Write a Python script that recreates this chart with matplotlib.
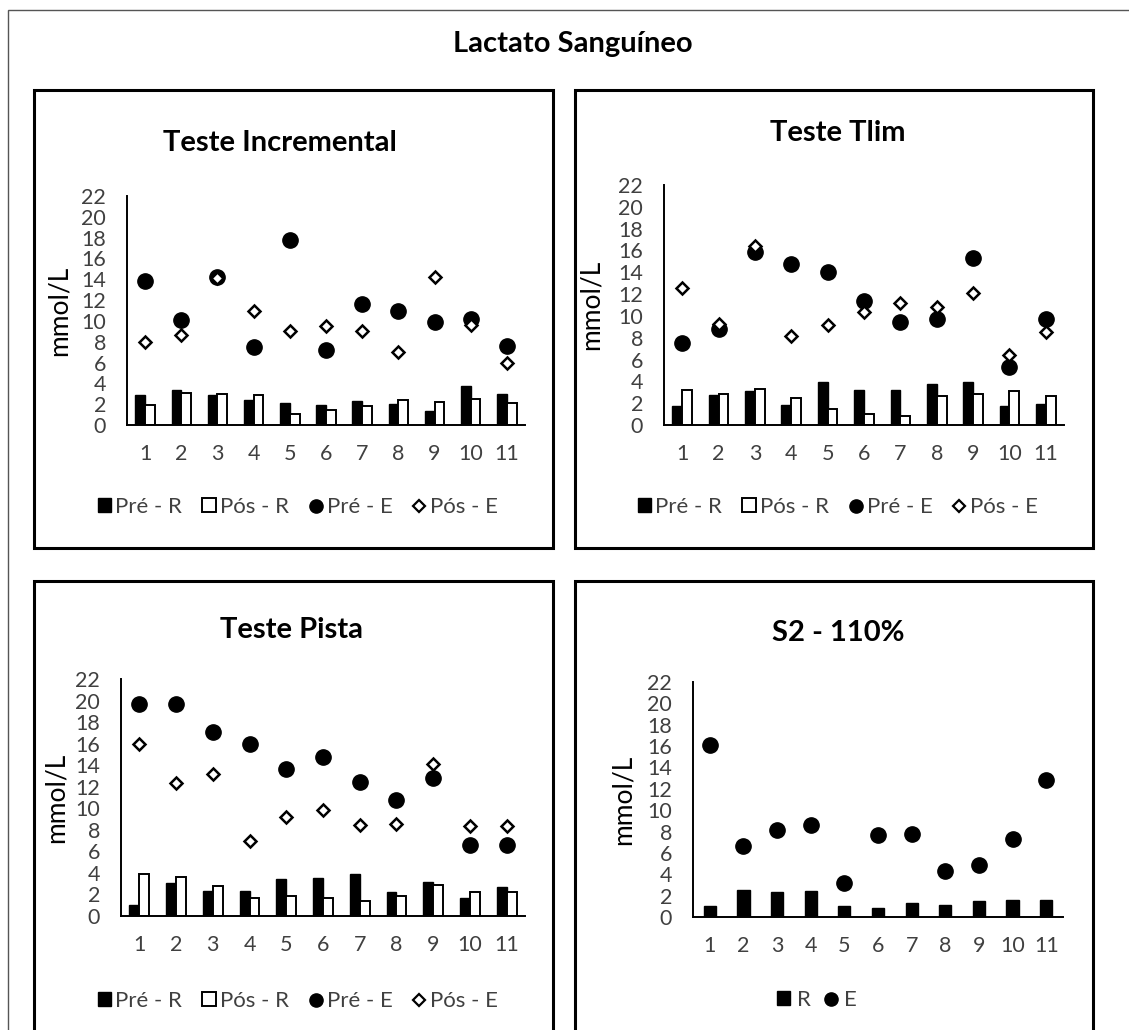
import matplotlib
matplotlib.use('Agg')
import matplotlib.pyplot as plt
from matplotlib.patches import Rectangle, Patch
from matplotlib.lines import Line2D
import numpy as np

plt.rcParams['font.family'] = ['Lato', 'DejaVu Sans']

# ---- data (mmol/L), subjects 1..11 ----
subjects = list(range(1, 12))

inc_pre_r = [2.9, 3.4, 2.9, 2.4, 2.1, 1.9, 2.3, 2.0, 1.3, 3.75, 3.0]
inc_pos_r = [1.9, 3.1, 3.0, 2.85, 1.1, 1.4, 1.85, 2.4, 2.25, 2.5, 2.1]
inc_pre_e = [13.8, 10.1, 14.2, 7.5, 17.8, 7.2, 11.6, 11.0, 9.9, 10.2, 7.6]
inc_pos_e = [8.0, 8.6, 14.1, 11.0, 9.0, 9.5, 9.0, 7.0, 14.2, 9.6, 6.0]

tlim_pre_r = [1.7, 2.75, 3.15, 1.85, 3.95, 3.2, 3.2, 3.8, 3.95, 1.7, 1.9]
tlim_pos_r = [3.2, 2.85, 3.3, 2.5, 1.45, 1.05, 0.8, 2.7, 2.85, 3.1, 2.7]
tlim_pre_e = [7.55, 8.8, 15.9, 14.8, 14.0, 11.4, 9.4, 9.7, 15.3, 5.3, 9.7]
tlim_pos_e = [12.6, 9.3, 16.4, 8.2, 9.2, 10.4, 11.2, 10.85, 12.1, 6.4, 8.5]

pista_pre_r = [1.0, 3.1, 2.3, 2.3, 3.4, 3.55, 3.9, 2.25, 3.2, 1.65, 2.7]
pista_pos_r = [3.9, 3.65, 2.8, 1.65, 1.85, 1.65, 1.4, 1.85, 2.85, 2.25, 2.25]
pista_pre_e = [19.7, 19.7, 17.1, 15.95, 13.6, 14.8, 12.4, 10.75, 12.8, 6.55, 6.55]
pista_pos_e = [16.0, 12.3, 13.2, 7.0, 9.2, 9.8, 8.45, 8.55, 14.1, 8.35, 8.35]

s2_r = [1.0, 2.55, 2.35, 2.45, 1.0, 0.87, 1.35, 1.1, 1.5, 1.6, 1.6]
s2_e = [16.1, 6.65, 8.1, 8.6, 3.2, 7.65, 7.8, 4.3, 4.85, 7.3, 12.8]

yticks = list(range(0, 23, 2))

W, H = 1129, 1030
fig = plt.figure(figsize=(W / 100, H / 100), dpi=100)
TXT = '#404040'


def box(x0, y0, x1, y1, lw, color):
    fig.patches.append(Rectangle((x0 / W, 1 - y1 / H), (x1 - x0) / W, (y1 - y0) / H,
                                 transform=fig.transFigure, fill=False,
                                 lw=lw, edgecolor=color))


def make_axes(x0, x1, ytop, ybot):
    ax = fig.add_axes([x0 / W, 1 - ybot / H, (x1 - x0) / W, (ybot - ytop) / H])
    ax.set_xlim(0.5, 11.5)
    ax.set_ylim(0, 22)
    ax.set_yticks(yticks)
    ax.set_xticks(subjects)
    for s in ['top', 'right']:
        ax.spines[s].set_visible(False)
    for s in ['left', 'bottom']:
        ax.spines[s].set_linewidth(1.4)
        ax.spines[s].set_color('black')
    ax.tick_params(axis='y', length=0, pad=15, labelsize=15.5, labelcolor=TXT)
    ax.tick_params(axis='x', length=0, pad=14, labelsize=15.5, labelcolor=TXT)
    ax.set_ylabel('mmol/L', fontsize=19, color='black')
    return ax


def four_series(ax, pre_r, pos_r, pre_e, pos_e):
    x = np.array(subjects)
    w = 0.27
    ax.bar(x - w / 2, pre_r, w, color='black', edgecolor='black', lw=1)
    ax.bar(x + w / 2, pos_r, w, color='white', edgecolor='black', lw=1.4)
    ax.plot(x, pre_e, 'o', color='black', ms=11, zorder=3)
    ax.plot(x, pos_e, 'D', mfc='white', mec='black', mew=1.8, ms=6.5, zorder=4)


def legend4(cx, cy):
    handles = [Patch(facecolor='black', edgecolor='black'),
               Patch(facecolor='white', edgecolor='black', lw=1.4),
               Line2D([], [], marker='o', color='black', ls='None', ms=9.5),
               Line2D([], [], marker='D', mfc='white', mec='black', mew=1.6, ls='None', ms=6)]
    labels = ['Pré - R', 'Pós - R', 'Pré - E', 'Pós - E']
    fig.legend(handles, labels, loc='center', bbox_to_anchor=(cx / W, 1 - cy / H),
               ncol=4, frameon=False, fontsize=16, handlelength=0.6, handleheight=0.6,
               handletextpad=0.2, columnspacing=0.9, labelcolor=TXT)


# outer frame and panel frames
box(8, 10, 1140, 1045, 1.0, '#555555')
box(34, 90, 553, 548, 2.2, 'black')
box(575, 90, 1093, 548, 2.2, 'black')
box(34, 581, 553, 1045, 2.2, 'black')
box(575, 581, 1093, 1045, 2.2, 'black')

fig.text(573 / W, 1 - 44 / H, 'Lactato Sanguíneo', ha='center', va='center',
         fontsize=21, fontweight='bold')

# Teste Incremental
ax1 = make_axes(127, 525, 196, 425)
four_series(ax1, inc_pre_r, inc_pos_r, inc_pre_e, inc_pos_e)
ax1.yaxis.set_label_coords(-0.138, 0.5)
fig.text(280 / W, 1 - 143 / H, 'Teste Incremental', ha='center', va='center',
         fontsize=21, fontweight='bold')
legend4(298, 507)

# Teste Tlim
ax2 = make_axes(664, 1064, 185, 425)
four_series(ax2, tlim_pre_r, tlim_pos_r, tlim_pre_e, tlim_pos_e)
ax2.yaxis.set_label_coords(-0.15, 0.5)
fig.text(838 / W, 1 - 133 / H, 'Teste Tlim', ha='center', va='center',
         fontsize=21, fontweight='bold')
legend4(838, 507)

# Teste Pista
ax3 = make_axes(121, 525, 679, 916)
four_series(ax3, pista_pre_r, pista_pos_r, pista_pre_e, pista_pos_e)
ax3.yaxis.set_label_coords(-0.129, 0.5)
fig.text(292 / W, 1 - 630 / H, 'Teste Pista', ha='center', va='center',
         fontsize=21, fontweight='bold')
legend4(298, 1001)

# S2 - 110%
ax4 = make_axes(693, 1063, 682, 917)
ax4.bar(subjects, s2_r, 0.36, color='black', edgecolor='black', lw=1)
ax4.plot(subjects, s2_e, 'o', color='black', ms=11, zorder=3)
ax4.yaxis.set_label_coords(-0.155, 0.5)
fig.text(838 / W, 1 - 633 / H, 'S2 - 110%', ha='center', va='center',
         fontsize=21, fontweight='bold')
fig.legend([Patch(facecolor='black', edgecolor='black'),
            Line2D([], [], marker='o', color='black', ls='None', ms=9.5)],
           ['R', 'E'], loc='center', bbox_to_anchor=(817 / W, 1 - 1000 / H),
           ncol=2, frameon=False, fontsize=16, handlelength=0.6, handleheight=0.6,
           handletextpad=0.3, columnspacing=0.6, labelcolor=TXT)

fig.savefig('out.png', dpi=100)
